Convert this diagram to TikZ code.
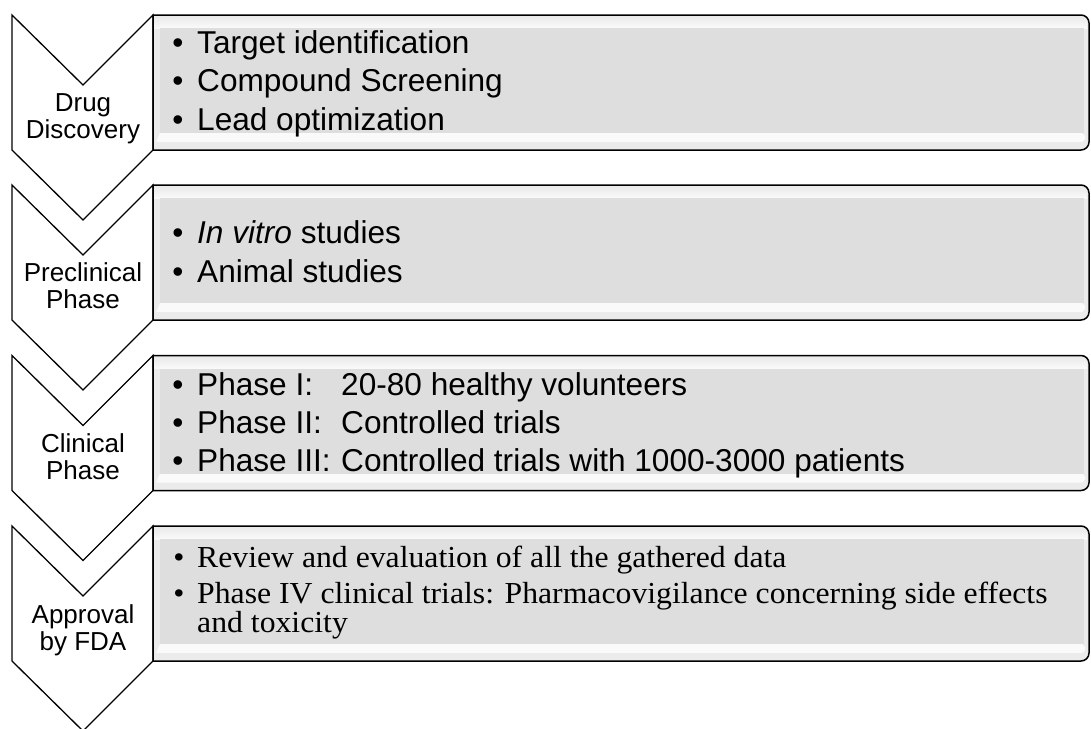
\documentclass[tikz,border=0pt]{standalone}
\usepackage{fontspec}
\setmainfont{Liberation Sans}
\newfontfamily\panelserif[FakeStretch=1.04]{Liberation Serif}

\definecolor{panelgray}{HTML}{DEDEDE}
\definecolor{panelrim}{HTML}{EBEBEB}
\definecolor{panelshine}{HTML}{FAFAFA}

% One stage: chevron on the left (top edge at #1) and bevelled panel on the right
\newcommand\stagechevron[1]{%
  \draw[chevronline] (12,#1) -- (83,#1+70) -- (153,#1) -- (153,#1+135)
        -- (83,#1+205) -- (12,#1+135) -- cycle;}
\newcommand\stagepanel[1]{%
  % outer frame with rounded right corners
  \path[fill=panelrim] (153,#1) -- (1081,#1) arc(-90:0:8) -- (1089,#1+127)
        arc(0:90:8) -- (153,#1+135) -- cycle;
  % top highlight
  \shade[top color=panelrim, bottom color=panelshine]
        (154,#1+2) rectangle (1087,#1+13);
  % bottom shine strip
  \path[fill=panelshine] (160,#1+118) -- (1082,#1+118)
        -- (1085,#1+121) -- (1085,#1+124) -- (1082,#1+127) -- (156,#1+127) -- cycle;
  % recessed face
  \path[fill=panelgray] (160,#1+13) -- (1084,#1+13) -- (1084,#1+118)
        -- (160,#1+118) -- cycle;
  \draw[panelline] (153,#1) -- (1081,#1) arc(-90:0:8) -- (1089,#1+127)
        arc(0:90:8) -- (153,#1+135) -- cycle;}

\begin{document}
\begin{tikzpicture}[x=1pt,y=-1pt,
  chevronline/.style={draw=black, fill=white, line width=1.3pt, line join=miter},
  panelline/.style={draw=black, line width=1.5pt},
  stagelabel/.style={align=center, inner sep=0pt,
    font=\fontsize{26}{27}\selectfont},
  itemtext/.style={anchor=base west, inner sep=0pt,
    font=\fontsize{31.6}{37}\selectfont},
  itembullet/.style={anchor=base, inner sep=0pt,
    font=\fontsize{31.6}{37}\selectfont},
  serifitem/.style={anchor=base west, inner sep=0pt,
    font=\panelserif\fontsize{30.5}{33}\selectfont},
  serifbullet/.style={anchor=base, inner sep=0pt,
    font=\panelserif\fontsize{30.5}{33}\selectfont}]

\useasboundingbox (0,0) rectangle (1091,728);
\fill[white] (0,0) rectangle (1091,728);

% chevrons
\stagechevron{15}
\stagechevron{185}
\stagechevron{355.5}
\stagechevron{526}

% panels
\stagepanel{15}
\stagepanel{185}
\stagepanel{355.5}
\stagepanel{526}

% stage names
\node[stagelabel] (s1) at (83,118.6) {Drug\\Discovery};
\node[stagelabel] (s2) at (83,285.9) {Preclinical\\Phase};
\node[stagelabel] (s3) at (83,456.5) {Clinical\\Phase};
\node[stagelabel] (s4) at (83,630.2) {Approval\\by FDA};

% drug discovery
\node[itembullet] (b11) at (178,53) {•};
\node[itemtext] (t11) at (197,53) {Target identification};
\node[itembullet] (b12) at (178,91.5) {•};
\node[itemtext] (t12) at (197,91.5) {Compound Screening};
\node[itembullet] (b13) at (178,130) {•};
\node[itemtext] (t13) at (197,130) {Lead optimization};

% preclinical phase
\node[itembullet] (b21) at (178,243) {•};
\node[itemtext] (t21) at (197,243) {\itshape In vitro\upshape{} studies};
\node[itembullet] (b22) at (178,282) {•};
\node[itemtext] (t22) at (197,282) {Animal studies};

% clinical phase
\node[itembullet] (b31) at (178,395) {•};
\node[itemtext] (p31) at (197,395) {Phase I:};
\node[itemtext] (t31) at (341,395) {20-80 healthy volunteers};
\node[itembullet] (b32) at (178,433) {•};
\node[itemtext] (p32) at (197,433) {Phase II:};
\node[itemtext] (t32) at (341,433) {Controlled trials};
\node[itembullet] (b33) at (178,471) {•};
\node[itemtext] (p33) at (197,471) {Phase III:};
\node[itemtext] (t33) at (341,471) {Controlled trials with 1000-3000 patients};

% approval
\node[serifbullet] (b41) at (179,567) {•};
\node[serifitem] (t41) at (197,567) {Review and evaluation of all the gathered data};
\node[serifbullet] (b42) at (179,603) {•};
\node[serifitem] (t42) at (197,603) {Phase IV clinical trials: Pharmacovigilance concerning side effects};
\node[serifitem] (t43) at (197,632) {and toxicity};
\end{tikzpicture}
\end{document}
